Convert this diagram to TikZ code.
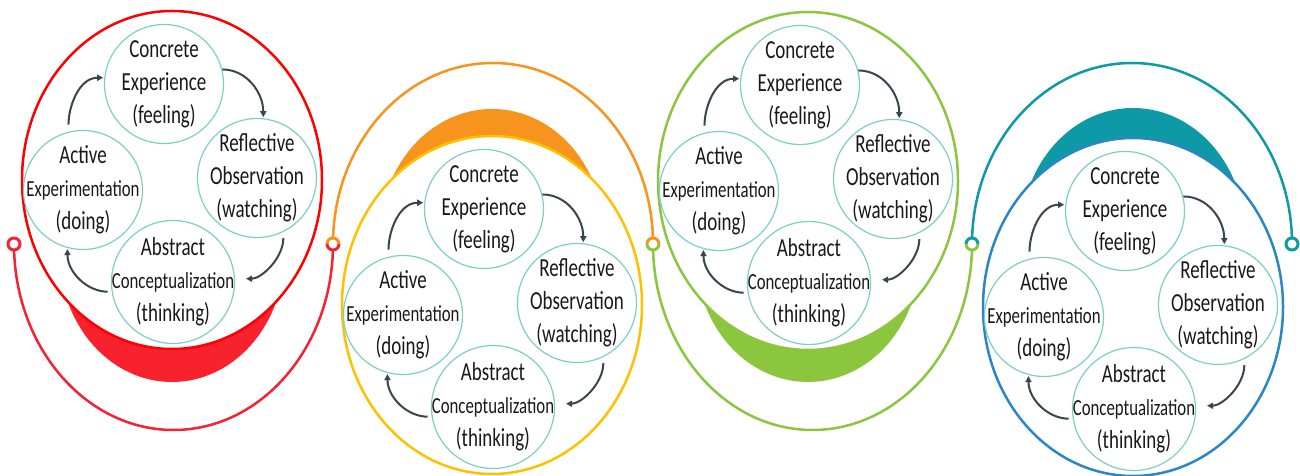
\documentclass[tikz,border=0pt]{standalone}
\usepackage{fontspec}
\newfontfamily\cfont[FakeStretch=0.73]{Carlito}
\usetikzlibrary{arrows.meta,calc}
\definecolor{cRed}{HTML}{FF0000}
\definecolor{cRedF}{HTML}{F8222F}
\definecolor{cRedL}{HTML}{F52232}
\definecolor{cOra}{HTML}{F7941D}
\definecolor{cYel}{HTML}{FFC000}
\definecolor{cGre}{HTML}{8CC63F}
\definecolor{cTea}{HTML}{0D9AA6}
\definecolor{cBlu}{HTML}{2A86C4}
\definecolor{cCir}{HTML}{7ECDC6}
\definecolor{cArr}{HTML}{37474F}
\tikzset{
 kc/.style={circle, draw=cCir, line width=1.2pt, fill=white, minimum size=119pt, inner sep=0pt},
 ktxt/.style={font=\cfont\fontsize{26}{33}\selectfont, align=center, text=black!90, inner sep=0pt},
 karr/.style={draw=cArr, line width=2pt, -{Triangle[length=6pt,width=6pt]}},
 bigell/.style={line width=2.5pt, fill=white},
 rim/.style={line width=2.5pt},
 dotc/.style={line width=3pt},
}
\newcommand\smalltxt{\fontsize{23}{33}\selectfont}
\newcommand\kolbgroup[5]{%
 \begin{scope}[shift={#2}]
  \fill[#4] (0,#3) ellipse[x radius=112, y radius=127];
  \draw[bigell, draw=#5] (0,0) ellipse[x radius=150, y radius=169];
  \node[kc, label={[ktxt]center:{Concrete\\Experience\\(feeling)}}] (con#1) at (-8,96) {};
  \node[kc, label={[ktxt]center:{Reflective\\Observation\\(watching)}}] (ref#1) at (85,2) {};
  \node[kc, label={[ktxt]center:{Active\\{\smalltxt Experimentation}\\(doing)}}] (act#1) at (-89,-10) {};
  \node[kc, minimum size=123pt, label={[ktxt]center:{Abstract\\{\smalltxt Conceptualization}\\(thinking)}}] (abs#1) at (1,-102) {};
  \draw[karr, shorten <=7pt, shorten >=1pt] (act#1.104) to[out=90,in=180] (con#1.174);
  \draw[karr, shorten >=1pt] (con#1.14) to[out=0,in=90] (ref#1.84);
  \draw[karr, shorten <=6pt, shorten >=11pt] (ref#1.-64) to[out=-90,in=0] (abs#1.3);
  \draw[karr, shorten <=4pt, shorten >=1pt] (abs#1.189) to[out=180,in=-90] (act#1.255);
 \end{scope}}
\begin{document}
\begin{tikzpicture}[x=1pt,y=1pt]
\useasboundingbox (0,0) rectangle (1300,476);
\coordinate (k1) at (14,232);
\coordinate (k2) at (333,232);
\coordinate (k3) at (653,232);
\coordinate (k4) at (972,232);
\coordinate (k5) at (1292,232);
\draw[cRedL, rim] (k1) arc[start angle=180, end angle=360, x radius=159.5, y radius=186];
\draw[cOra, rim] (k2) arc[start angle=180, end angle=0, x radius=160, y radius=181];
\draw[cGre, rim] (k3) arc[start angle=180, end angle=360, x radius=159.5, y radius=186];
\draw[cTea, rim] (k4) arc[start angle=180, end angle=0, x radius=160, y radius=181];
\kolbgroup{1}{(172,296)}{-75}{cRedF}{cRed}
\kolbgroup{2}{(492,171)}{69}{cOra}{cYel}
\kolbgroup{3}{(808,295)}{-74}{cGre}{cGre}
\kolbgroup{4}{(1133,169)}{72}{cTea}{cBlu}
% connector dots
\draw[dotc, draw=cRedL, fill=white] (k1) circle[radius=6];
\fill[white] (k2) circle[radius=6];
\draw[dotc, cOra] ($(k2)+(6,0)$) arc[start angle=0, end angle=180, radius=6];
\draw[dotc, cRedL] ($(k2)+(-6,0)$) arc[start angle=180, end angle=360, radius=6];
\fill[white] (k3) circle[radius=6];
\draw[dotc, cOra] ($(k3)+(6,0)$) arc[start angle=0, end angle=180, radius=6];
\draw[dotc, cGre] ($(k3)+(-6,0)$) arc[start angle=180, end angle=360, radius=6];
\fill[white] (k4) circle[radius=6];
\draw[dotc, cTea] ($(k4)+(6,0)$) arc[start angle=0, end angle=180, radius=6];
\draw[dotc, cGre] ($(k4)+(-6,0)$) arc[start angle=180, end angle=360, radius=6];
\draw[dotc, draw=cTea, fill=white] (k5) circle[radius=6];
\end{tikzpicture}
\end{document}
